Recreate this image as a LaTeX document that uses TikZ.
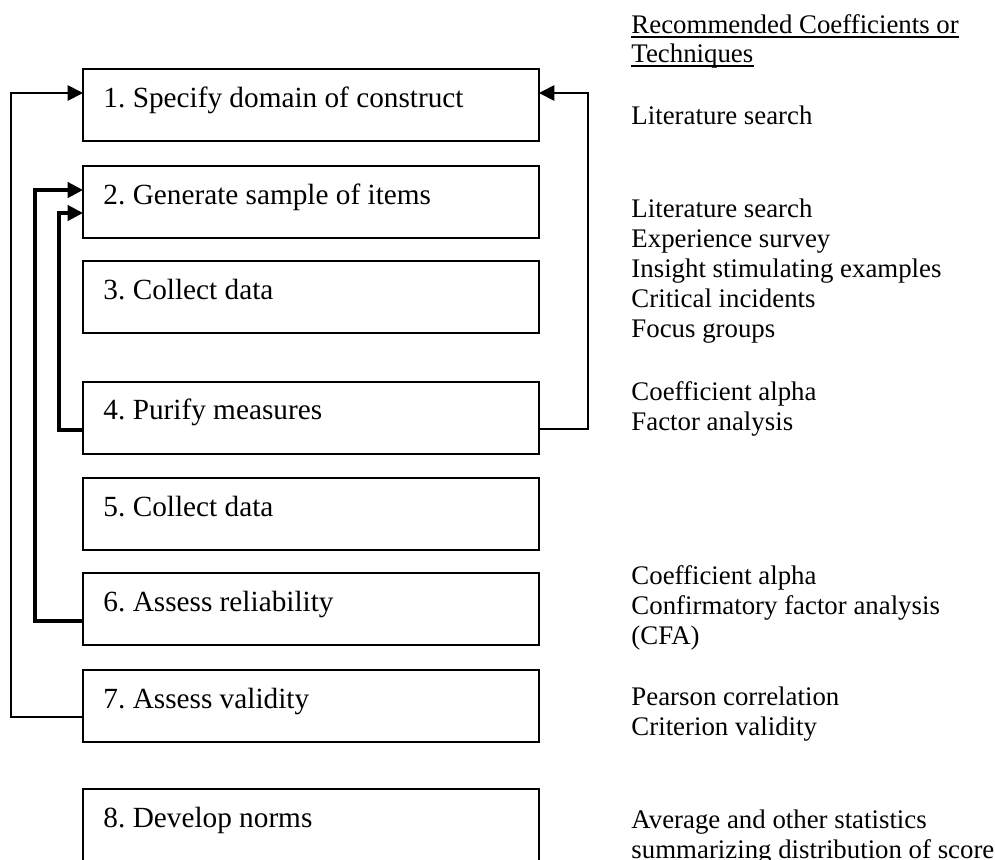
\documentclass[tikz,border=0pt]{standalone}
\usepackage{fontspec}
\setmainfont{Liberation Serif}
\usetikzlibrary{arrows.meta,calc}
\frenchspacing
\begin{document}
\begin{tikzpicture}[x=0.41pt,y=-0.41pt,
  stepbox/.style={draw, line width=0.8pt, inner sep=0pt, outer sep=0pt,
    minimum width=186.96pt, minimum height=29.52pt, anchor=north west},
  steptext/.style={inner sep=0pt, anchor=base west,
    font=\fontsize{12pt}{14pt}\selectfont},
  rtext/.style={inner sep=0pt, anchor=base west,
    font=\fontsize{11pt}{12.3pt}\selectfont},
  tip/.style={-{Triangle[length=6.3pt,width=6.3pt]}},
  thinloop/.style={tip, line width=0.75pt},
  thickloop/.style={tip, line width=1.3pt},
  uline/.style={line width=0.6pt}]
\useasboundingbox (0,0) rectangle (995,859);

% step boxes
\node[stepbox] (b1) at (83,69) {};
\node[stepbox] (b2) at (83,166) {};
\node[stepbox] (b3) at (83,261) {};
\node[stepbox] (b4) at (83,382) {};
\node[stepbox] (b5) at (83,478) {};
\node[stepbox] (b6) at (83,573) {};
\node[stepbox] (b7) at (83,670) {};
\node[stepbox, minimum height=34pt] (b8) at (83,789) {};

% step labels
\node[steptext] (t1) at ($(b1.north west)+(20,38)$) {1. Specify domain of construct};
\node[steptext] (t2) at ($(b2.north west)+(20,38)$) {2. Generate sample of items};
\node[steptext] (t3) at ($(b3.north west)+(20,38)$) {3. Collect data};
\node[steptext] (t4) at ($(b4.north west)+(20,37)$) {4. Purify measures};
\node[steptext] (t5) at ($(b5.north west)+(20,38)$) {5. Collect data};
\node[steptext] (t6) at ($(b6.north west)+(20,38)$) {6. Assess reliability};
\node[steptext] (t7) at ($(b7.north west)+(20,38)$) {7. Assess validity};
\node[steptext] (t8) at ($(b8.north west)+(20,38)$) {8. Develop norms};

% feedback loops
\coordinate (o7) at ($(b7.north west)+(0,47)$);
\coordinate (i1) at ($(b1.north west)+(0,24)$);
\draw[thinloop] (o7) -- ++(-72,0) |- (i1);

\coordinate (o6) at ($(b6.north west)+(0,48)$);
\coordinate (i2a) at ($(b2.north west)+(0,24)$);
\draw[thickloop] (o6) -- ++(-48,0) |- (i2a);

\coordinate (o4) at ($(b4.north west)+(0,48)$);
\coordinate (i2b) at ($(b2.north west)+(0,47)$);
\draw[thickloop] (o4) -- ++(-24,0) |- (i2b);

\coordinate (o4r) at ($(b4.north east)+(0,47)$);
\coordinate (i1r) at ($(b1.north east)+(0,24)$);
\draw[thinloop] (o4r) -- ++(49,0) |- (i1r);

% column of coefficients and techniques
\node[rtext] (h1) at (631,33) {Recommended Coefficients or};
\node[rtext] (h2) at (631,62) {Techniques};
\draw[uline] ([yshift=-1.6pt]h1.base west) -- ([yshift=-1.6pt]h1.base east);
\draw[uline] ([yshift=-1.6pt]h2.base west) -- ([yshift=-1.6pt]h2.base east);

\node[rtext] (r1) at (631,124) {Literature search};

\node[rtext] (r2a) at (631,217) {Literature search};
\node[rtext] (r2b) at (631,247) {Experience survey};
\node[rtext] (r2c) at (631,277) {Insight stimulating examples};
\node[rtext] (r2d) at (631,307) {Critical incidents};
\node[rtext] (r2e) at (631,337) {Focus groups};

\node[rtext] (r4a) at (631,400) {Coefficient alpha};
\node[rtext] (r4b) at (631,430) {Factor analysis};

\node[rtext] (r6a) at (631,584) {Coefficient alpha};
\node[rtext] (r6b) at (631,614) {Confirmatory factor analysis};
\node[rtext] (r6c) at (631,644) {(CFA)};

\node[rtext] (r7a) at (631,705) {Pearson correlation};
\node[rtext] (r7b) at (631,735) {Criterion validity};

\node[rtext] (r8a) at (631,828) {Average and other statistics};
\node[rtext] (r8b) at (631,858) {summarizing distribution of score};
\end{tikzpicture}
\end{document}
